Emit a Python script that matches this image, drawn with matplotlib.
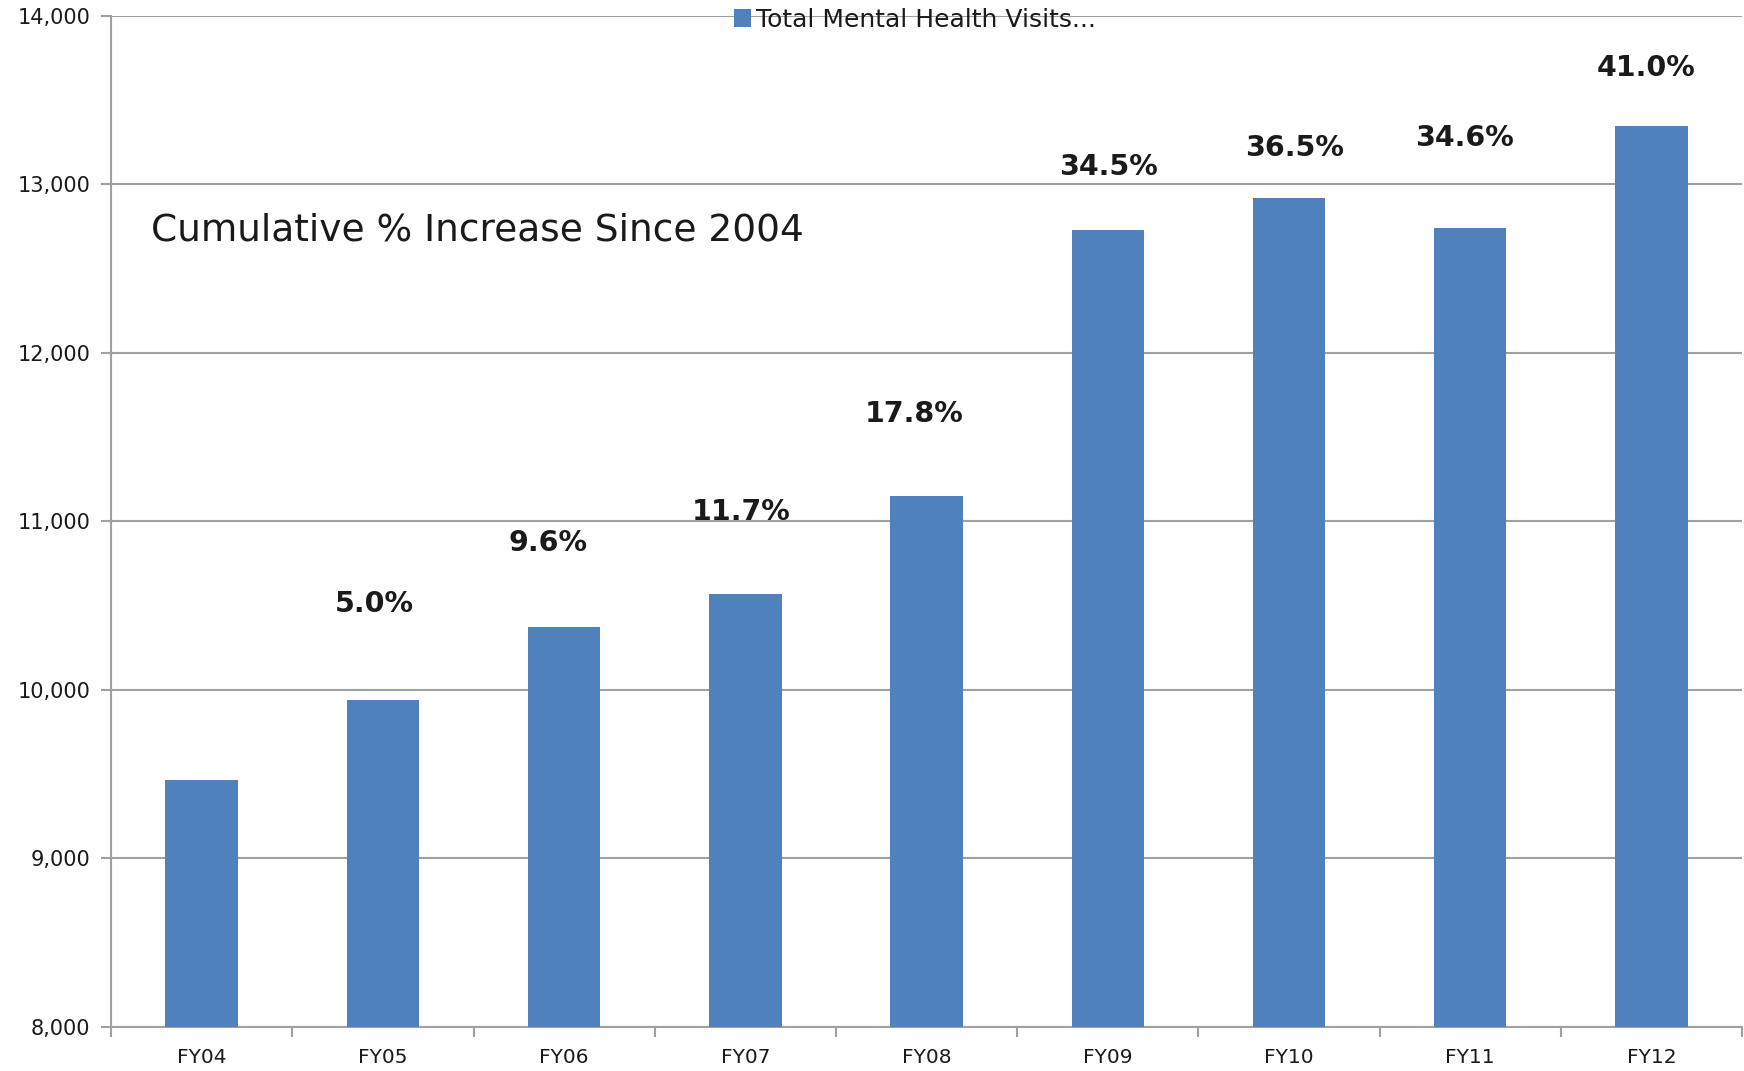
import matplotlib
matplotlib.use("Agg")
import matplotlib.pyplot as plt
from matplotlib.patches import Patch
from matplotlib.ticker import FuncFormatter, FixedLocator

# Fiscal years and total mental health visits
years = ["FY04", "FY05", "FY06", "FY07", "FY08", "FY09", "FY10", "FY11", "FY12"]
visits = [9465, 9940, 10372, 10570, 11148, 12730, 12920, 12740, 13346]
pct_labels = ["", "5.0%", "9.6%", "11.7%", "17.8%", "34.5%", "36.5%", "34.6%", "41.0%"]
y_ticks = [8000, 9000, 10000, 11000, 12000, 13000, 14000]

# Label placement (category offset, height in data units)
label_dx = [0, -0.05, -0.09, -0.025, -0.07, 0.006, 0.03, -0.03, -0.03]
label_y = [0, 10508, 10871, 11056, 11637, 13102, 13215, 13274, 13690]

bar_color = "#4F81BD"
grid_color = "#A0A0A0"
text_color = "#1A1A1A"

fig = plt.figure(figsize=(17.44, 10.71), dpi=100)
ax = fig.add_axes([0.0637, 0.0411, 0.9352, 0.9443])

x = list(range(len(years)))
ax.bar(x, visits, width=0.4, color=bar_color, zorder=3)

ax.set_xlim(-0.5, len(years) - 0.5)
ax.set_ylim(8000, 14000)
ax.yaxis.set_major_locator(FixedLocator(y_ticks))
ax.yaxis.set_major_formatter(FuncFormatter(lambda v, p: f"{int(v):,}"))
ax.grid(axis="y", color=grid_color, linewidth=1.5, zorder=0)

# Category labels centred under bars, ticks at category boundaries
ax.set_xticks(x)
ax.set_xticklabels(years)
ax.tick_params(axis="x", which="major", length=0, pad=15, labelsize=14.5, labelcolor=text_color)
ax.set_xticks([i - 0.5 for i in range(len(years) + 1)], minor=True)
ax.tick_params(axis="x", which="minor", length=7, width=1.5, color=grid_color, direction="out")
ax.tick_params(axis="y", length=7, width=1.5, color=grid_color, direction="out", pad=8,
               labelsize=15, labelcolor=text_color)

for side in ("top", "right"):
    ax.spines[side].set_visible(False)
for side in ("left", "bottom"):
    ax.spines[side].set_color(grid_color)
    ax.spines[side].set_linewidth(1.5)

# Cumulative percentage labels above bars
for i, lab in enumerate(pct_labels):
    if lab:
        ax.text(i + label_dx[i], label_y[i], lab, ha="center", va="center",
                fontsize=20.5, fontweight="bold", color=text_color, zorder=4)

ax.text(0.0245, 0.788, "Cumulative % Increase Since 2004", transform=ax.transAxes,
        ha="left", va="center", fontsize=27, color=text_color)

leg = ax.legend(handles=[Patch(facecolor=bar_color, label="Total Mental Health Visits...")],
                loc="center", bbox_to_anchor=(0.493, 0.996), frameon=False,
                fontsize=18, handlelength=0.7, handleheight=0.7, handletextpad=0.2,
                borderaxespad=0)
for t in leg.get_texts():
    t.set_color(text_color)

fig.savefig("out.png", dpi=100, facecolor="white")
